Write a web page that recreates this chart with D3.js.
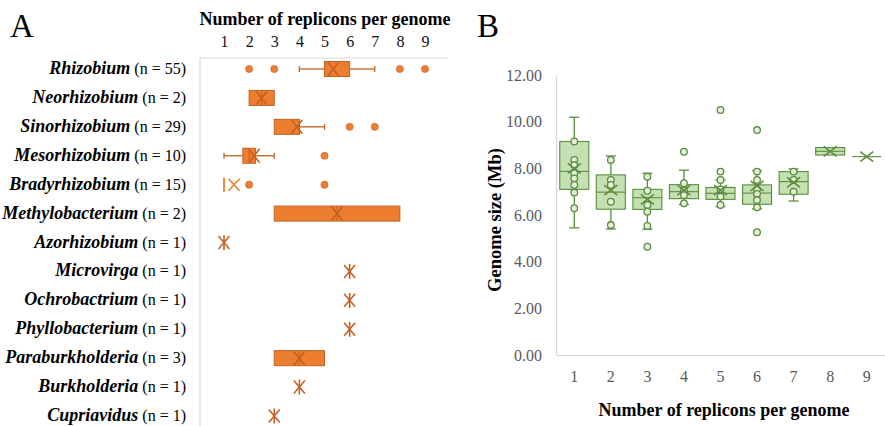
<!DOCTYPE html>
<html>
<head>
<meta charset="utf-8">
<script src="https://cdn.jsdelivr.net/npm/d3@7"></script>
<style>
  body { margin: 0; background: #fff; }
  text { font-family: "Liberation Serif", "Times New Roman", serif; }
</style>
</head>
<body>
<script>
// ---- panel A data: replicons per genome, by genus ----
const genera = ['Rhizobium', 'Neorhizobium', 'Sinorhizobium', 'Mesorhizobium', 'Bradyrhizobium',
  'Methylobacterium', 'Azorhizobium', 'Microvirga', 'Ochrobactrium', 'Phyllobacterium',
  'Paraburkholderia', 'Burkholderia', 'Cupriavidus'];
const genusN = [55, 2, 29, 10, 15, 2, 1, 1, 1, 1, 3, 1, 1];
const q1A = [5, 2, 3, 1.75, 1, 3, 1, 6, 6, 6, 3, 4, 3];
const medA = [5, 2.5, 4, 2, 1, 5.5, 1, 6, 6, 6, 4, 4, 3];
const q3A = [6, 3, 4, 2.25, 1, 8, 1, 6, 6, 6, 5, 4, 3];
const loA = [4, 2, 3, 1, 1, 3, 1, 6, 6, 6, 3, 4, 3];
const hiA = [7, 3, 5, 3, 1, 8, 1, 6, 6, 6, 5, 4, 3];
const meanA = [5.35, 2.5, 3.9, 2.2, 1.4, 5.5, 1, 6, 6, 6, 4, 4, 3];
const outliersA = [[2, 3, 8, 9], [], [6, 7], [5], [2, 5], [], [], [], [], [], [], [], []];

// ---- panel B data: genome size (Mb) by number of replicons ----
const replicons = [1, 2, 3, 4, 5, 6, 7, 8, 9];
const q1B = [7.1, 6.25, 6.24, 6.7, 6.67, 6.46, 6.89, 8.57, 8.5];
const medB = [7.87, 6.98, 6.74, 7.0, 6.93, 6.94, 7.43, 8.73, 8.5];
const q3B = [9.15, 7.72, 7.1, 7.3, 7.18, 7.29, 7.86, 8.89, 8.5];
const loB = [5.45, 5.4, 5.39, 6.45, 6.36, 6.26, 6.6, 8.57, 8.5];
const hiB = [10.19, 8.53, 7.79, 7.92, 7.5, 7.9, 7.97, 8.89, 8.5];
const meanB = [8.0, 7.07, 6.67, 7.07, 7.07, 7.25, 7.4, 8.73, 8.5];
const pointsB = [
  [9.15, 8.36, 8.14, 7.79, 7.57, 7.29, 6.96, 6.29],
  [8.36, 7.5, 7.29, 6.57, 5.57],
  [7.64, 7.04, 6.43, 6.14, 5.53, 4.64],
  [8.71, 7.36, 7.05, 6.85, 6.5],
  [10.5, 7.86, 7.5, 7.1, 6.79, 6.43],
  [9.64, 7.86, 7.5, 7.1, 6.9, 6.64, 6.33, 5.26],
  [7.86, 7.5, 7.0],
  [],
  []
];
const yTicksB = [0, 2, 4, 6, 8, 10, 12];

const width = 885, height = 426;
const svg = d3.select('body').append('svg')
  .attr('width', width)
  .attr('height', height);

const orange = '#ed7d31', orangeDark = '#c4611f';
const greenFill = '#c5e0b3', greenDark = '#5b8c3c';

// draw an X marker (mean); optional vertical bar turns it into an asterisk
let drawX = (g, cx, cy, w, h, color, bar) => {
  g.append('path')
    .attr('d', `M${cx - w / 2},${cy - h / 2}L${cx + w / 2},${cy + h / 2}M${cx - w / 2},${cy + h / 2}L${cx + w / 2},${cy - h / 2}`)
    .attr('stroke', color).attr('stroke-width', 1.6).attr('fill', 'none');
  if (bar) {
    g.append('line')
      .attr('x1', cx).attr('x2', cx).attr('y1', cy - h / 2 - 1).attr('y2', cy + h / 2 + 1)
      .attr('stroke', color).attr('stroke-width', 1.6);
  }
};

// ================= PANEL A =================
const gA = svg.append('g');
const xA = d3.scaleLinear().domain([1, 9]).range([224, 425]);
const yA = d3.scalePoint().domain(genera).range([69, 416]);
const boxH = 15;

gA.append('text').text('A').attr('x', 10).attr('y', 37)
  .style('font-size', '33px');

gA.append('text').text('Number of replicons per genome')
  .attr('x', 325).attr('y', 25).attr('text-anchor', 'middle')
  .style('font-size', '18px').style('font-weight', 'bold');

const axTop = gA.append('g')
  .attr('transform', 'translate(0,47)')
  .call(d3.axisTop(xA).tickValues(d3.range(1, 10)).tickSize(0).tickPadding(0).tickFormat(d3.format('d')));
axTop.select('.domain').remove();
axTop.selectAll('text').style('font-size', '16px').attr('fill', '#111');

// frame
gA.append('line').attr('x1', 200).attr('x2', 448).attr('y1', 58).attr('y2', 58)
  .attr('stroke', '#d9d9d9').attr('stroke-width', 1.2);
gA.append('line').attr('x1', 200).attr('x2', 200).attr('y1', 58).attr('y2', 426)
  .attr('stroke', '#d9d9d9').attr('stroke-width', 1.2);

// row labels
genera.forEach((g, i) => {
  const t = gA.append('text')
    .attr('x', 186).attr('y', yA(g) + 5).attr('text-anchor', 'end');
  t.append('tspan').text(g)
    .style('font-style', 'italic').style('font-weight', 'bold').style('font-size', '18px');
  t.append('tspan').text(' (n = ' + genusN[i] + ')').style('font-size', '16px');
});

genera.forEach((g, i) => {
  const cy = yA(g);
  const row = gA.append('g');
  // whiskers
  if (loA[i] < q1A[i]) {
    row.append('line').attr('x1', xA(loA[i])).attr('x2', xA(q1A[i])).attr('y1', cy).attr('y2', cy)
      .attr('stroke', orangeDark).attr('stroke-width', 1.3);
    row.append('line').attr('x1', xA(loA[i])).attr('x2', xA(loA[i])).attr('y1', cy - 3).attr('y2', cy + 3)
      .attr('stroke', orangeDark).attr('stroke-width', 1.3);
  }
  if (hiA[i] > q3A[i]) {
    row.append('line').attr('x1', xA(q3A[i])).attr('x2', xA(hiA[i])).attr('y1', cy).attr('y2', cy)
      .attr('stroke', orangeDark).attr('stroke-width', 1.3);
    row.append('line').attr('x1', xA(hiA[i])).attr('x2', xA(hiA[i])).attr('y1', cy - 3).attr('y2', cy + 3)
      .attr('stroke', orangeDark).attr('stroke-width', 1.3);
  }
  if (q3A[i] > q1A[i]) {
    row.append('rect')
      .attr('x', xA(q1A[i])).attr('y', cy - boxH / 2)
      .attr('width', xA(q3A[i]) - xA(q1A[i])).attr('height', boxH)
      .attr('fill', orange).attr('stroke', orangeDark).attr('stroke-width', 1);
    row.append('line').attr('x1', xA(medA[i])).attr('x2', xA(medA[i]))
      .attr('y1', cy - boxH / 2).attr('y2', cy + boxH / 2)
      .attr('stroke', orangeDark).attr('stroke-width', 1);
    drawX(row, xA(meanA[i]), cy, 11, boxH - 1, orangeDark, false);
  } else if (meanA[i] !== medA[i]) {
    // collapsed box with mean apart from it
    row.append('line').attr('x1', xA(medA[i])).attr('x2', xA(medA[i]))
      .attr('y1', cy - 7).attr('y2', cy + 7).attr('stroke', orange).attr('stroke-width', 1.8);
    drawX(row, xA(meanA[i]), cy, 11, 12, orange, false);
  } else {
    drawX(row, xA(meanA[i]), cy, 11, 13, orangeDark, true);
  }
  outliersA[i].forEach(v => {
    row.append('circle').attr('cx', xA(v)).attr('cy', cy).attr('r', 3.6)
      .attr('fill', orange).attr('stroke', orangeDark).attr('stroke-width', 0.6);
  });
});

// ================= PANEL B =================
const gB = svg.append('g');
const xB = d3.scaleBand().domain(replicons).range([556, 885]);
const yB = d3.scaleLinear().domain([0, 12]).range([355, 75]);
const bw = 29;

gB.append('text').text('B').attr('x', 477).attr('y', 37)
  .style('font-size', '33px');

const axL = gB.append('g')
  .attr('transform', 'translate(556,0)')
  .call(d3.axisLeft(yB).tickValues(yTicksB).tickSize(0).tickPadding(14).tickFormat(d3.format('.2f')));
axL.select('.domain').attr('stroke', '#d9d9d9').attr('stroke-width', 1.2);
axL.selectAll('text').style('font-size', '16px').attr('fill', '#595959');

const axB = gB.append('g')
  .attr('transform', 'translate(0,355)')
  .call(d3.axisBottom(xB).tickSize(0).tickPadding(16));
axB.select('.domain').attr('stroke', '#d9d9d9').attr('stroke-width', 1.2);
axB.selectAll('text').style('font-size', '16px').attr('fill', '#595959');

gB.append('text').text('Genome size (Mb)')
  .attr('transform', 'translate(501,220) rotate(-90)').attr('text-anchor', 'middle')
  .style('font-size', '18.5px').style('font-weight', 'bold');

gB.append('text').text('Number of replicons per genome')
  .attr('x', 724).attr('y', 416).attr('text-anchor', 'middle')
  .style('font-size', '18px').style('font-weight', 'bold');

replicons.forEach((r, i) => {
  const cx = xB(r) + xB.bandwidth() / 2;
  const col = gB.append('g');
  if (hiB[i] > q3B[i]) {
    col.append('line').attr('x1', cx).attr('x2', cx).attr('y1', yB(hiB[i])).attr('y2', yB(q3B[i]))
      .attr('stroke', greenDark).attr('stroke-width', 1.3);
    col.append('line').attr('x1', cx - 5).attr('x2', cx + 5).attr('y1', yB(hiB[i])).attr('y2', yB(hiB[i]))
      .attr('stroke', greenDark).attr('stroke-width', 1.3);
  }
  if (loB[i] < q1B[i]) {
    col.append('line').attr('x1', cx).attr('x2', cx).attr('y1', yB(q1B[i])).attr('y2', yB(loB[i]))
      .attr('stroke', greenDark).attr('stroke-width', 1.3);
    col.append('line').attr('x1', cx - 5).attr('x2', cx + 5).attr('y1', yB(loB[i])).attr('y2', yB(loB[i]))
      .attr('stroke', greenDark).attr('stroke-width', 1.3);
  }
  if (q3B[i] > q1B[i]) {
    col.append('rect')
      .attr('x', cx - bw / 2).attr('y', yB(q3B[i]))
      .attr('width', bw).attr('height', yB(q1B[i]) - yB(q3B[i]))
      .attr('fill', greenFill).attr('stroke', greenDark).attr('stroke-width', 1.1);
  }
  col.append('line').attr('x1', cx - bw / 2).attr('x2', cx + bw / 2)
    .attr('y1', yB(medB[i])).attr('y2', yB(medB[i]))
    .attr('stroke', greenDark).attr('stroke-width', 1.1);
  pointsB[i].forEach(v => {
    col.append('circle').attr('cx', cx).attr('cy', yB(v)).attr('r', 3.3)
      .attr('fill', '#e4f0da').attr('stroke', greenDark).attr('stroke-width', 1.3);
  });
  drawX(col, cx, yB(meanB[i]), 13, 10, greenDark, false);
});
</script>
</body>
</html>
